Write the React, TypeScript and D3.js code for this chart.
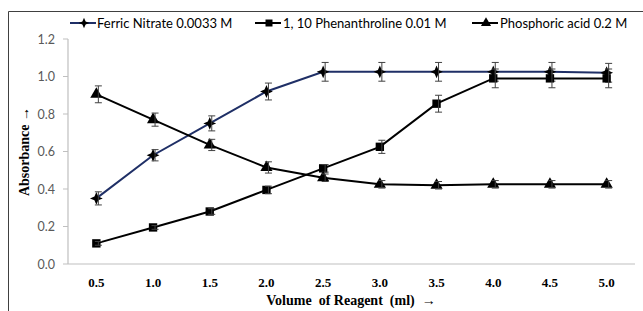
import React from 'react';
import * as d3 from 'd3';

const volumes = ['0.5', '1.0', '1.5', '2.0', '2.5', '3.0', '3.5', '4.0', '4.5', '5.0'];
const ferric = [0.35, 0.58, 0.75, 0.92, 1.025, 1.025, 1.025, 1.025, 1.025, 1.02];
const ferricErr = [0.035, 0.03, 0.04, 0.045, 0.05, 0.05, 0.05, 0.05, 0.05, 0.05];
const phen = [0.11, 0.195, 0.28, 0.395, 0.51, 0.625, 0.855, 0.99, 0.99, 0.99];
const phenErr = [0.01, 0.01, 0.015, 0.02, 0.02, 0.035, 0.045, 0.05, 0.05, 0.05];
const phos = [0.905, 0.77, 0.635, 0.515, 0.46, 0.425, 0.42, 0.425, 0.425, 0.425];
const phosErr = [0.045, 0.035, 0.03, 0.03, 0.02, 0.02, 0.02, 0.02, 0.02, 0.02];
const yTicks = [0, 0.2, 0.4, 0.6, 0.8, 1.0, 1.2];

const W = 643;
const H = 311;
const M = { left: 68, right: 635, top: 39, bottom: 264 };

// 4-point star marker used for the ferric nitrate series
const star4: d3.SymbolType = {
  draw(ctx, size) {
    const r = Math.sqrt(size) * 0.8;
    const k = r * 0.3;
    ctx.moveTo(0, -r);
    ctx.lineTo(k, -k);
    ctx.lineTo(r, 0);
    ctx.lineTo(k, k);
    ctx.lineTo(0, r);
    ctx.lineTo(-k, k);
    ctx.lineTo(-r, 0);
    ctx.lineTo(-k, -k);
    ctx.closePath();
  },
};

const series = [
  { name: 'Ferric Nitrate 0.0033 M', values: ferric, err: ferricErr, color: '#1f2f66', symbol: star4, size: 64 },
  { name: '1, 10 Phenanthroline 0.01 M', values: phen, err: phenErr, color: '#000000', symbol: d3.symbolSquare, size: 70 },
  { name: 'Phosphoric acid 0.2 M', values: phos, err: phosErr, color: '#000000', symbol: d3.symbolTriangle, size: 64 },
];

const legendPos = [
  { x: 70, tx: 97 },
  { x: 255, tx: 283 },
  { x: 472, tx: 500 },
];

export default function App() {
  const x = d3.scaleBand<string>().domain(volumes).range([M.left, M.right]).padding(0);
  const y = d3.scaleLinear().domain([0, 1.2]).range([M.bottom, M.top]);
  const cx = (v: string) => (x(v) ?? 0) + x.bandwidth() / 2;
  const line = d3.line<number>()
    .x((_, i) => cx(volumes[i]))
    .y((d) => y(d));

  return (
    <svg width={W} height={H} style={{ position: 'absolute', left: 0, top: 0, background: '#fff' }}>
      {/* frame */}
      <line x1={8.5} y1={11.5} x2={W} y2={11.5} stroke="#404040" strokeWidth={1} />
      <line x1={8.5} y1={11.5} x2={8.5} y2={H} stroke="#404040" strokeWidth={1} />

      {/* axes */}
      <line x1={M.left} y1={M.top} x2={M.left} y2={M.bottom} stroke="#bfbfbf" strokeWidth={1.2} />
      <line x1={M.left} y1={M.bottom} x2={M.right} y2={M.bottom} stroke="#bfbfbf" strokeWidth={1.2} />
      {yTicks.map((t) => (
        <g key={t}>
          <line x1={M.left - 5} x2={M.left} y1={y(t)} y2={y(t)} stroke="#bfbfbf" strokeWidth={1} />
          <text x={M.left - 13} y={y(t)} textAnchor="end" dominantBaseline="central"
            fontFamily="Lato, 'Open Sans', sans-serif" fontSize={12.5} fill="#595959">
            {t.toFixed(1)}
          </text>
        </g>
      ))}
      {volumes.map((v) => (
        <text key={v} x={cx(v)} y={282} textAnchor="middle" dominantBaseline="central"
          fontFamily="'Liberation Serif', serif" fontWeight="bold" fontSize={13} fill="#000">
          {v}
        </text>
      ))}
      <text x={351} y={300} textAnchor="middle" dominantBaseline="central" style={{ whiteSpace: 'pre' }}
        fontFamily="'Liberation Serif', serif" fontWeight="bold" fontSize={14} fill="#000">
        {'Volume  of Reagent  (ml)  →'}
      </text>
      <text transform={`translate(24,${(M.top + M.bottom) / 2}) rotate(-90)`} textAnchor="middle"
        dominantBaseline="central" fontFamily="'Liberation Serif', serif" fontWeight="bold" fontSize={14} fill="#000">
        Absorbance →
      </text>

      {/* series */}
      {series.map((s) => (
        <g key={s.name}>
          <path d={line(s.values) ?? ''} fill="none" stroke={s.color} strokeWidth={2} />
          {s.values.map((v, i) => {
            const px = cx(volumes[i]);
            return (
              <path key={i} d={d3.symbol(s.symbol, s.size)() ?? ''}
                transform={`translate(${px},${y(v)})`} fill="#000" />
            );
          })}
          {s.values.map((v, i) => {
            const px = cx(volumes[i]) + 2;
            const y0 = y(v - s.err[i]);
            const y1 = y(v + s.err[i]);
            return (
              <g key={`e${i}`} stroke="#404040" strokeWidth={1}>
                <line x1={px} x2={px} y1={y0} y2={y1} />
                <line x1={px - 3.5} x2={px + 3.5} y1={y0} y2={y0} />
                <line x1={px - 3.5} x2={px + 3.5} y1={y1} y2={y1} />
              </g>
            );
          })}
        </g>
      ))}

      {/* legend */}
      {series.map((s, i) => {
        const lp = legendPos[i];
        return (
          <g key={s.name} transform={`translate(${lp.x},23)`}>
            <line x1={0} x2={26} y1={0} y2={0} stroke={s.color} strokeWidth={2} />
            <path d={d3.symbol(s.symbol, s.size * 0.7)() ?? ''} transform="translate(14,0)" fill="#000" />
            <text x={lp.tx - lp.x} y={0} dominantBaseline="central"
              fontFamily="Lato, 'Open Sans', sans-serif" fontSize={13} fill="#000">
              {s.name}
            </text>
          </g>
        );
      })}
    </svg>
  );
}
